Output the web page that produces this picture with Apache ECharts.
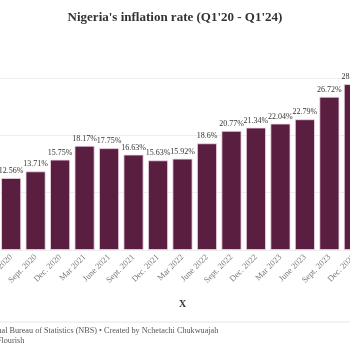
<!DOCTYPE html>
<html>
<head>
<meta charset="utf-8">
<script src="https://cdn.jsdelivr.net/npm/echarts@6/dist/echarts.min.js"></script>
<style>
  html, body { margin: 0; padding: 0; background: #fff; }
  #main { width: 350px; height: 350px; }
</style>
</head>
<body>
<div id="main"></div>
<script>
// quarters shown in the chart (Q1'20 - Q1'24)
var quarters = ['Mar 2020', 'June 2020', 'Sept. 2020', 'Dec. 2020',
  'Mar 2021', 'June 2021', 'Sept. 2021', 'Dec. 2021',
  'Mar 2022', 'June 2022', 'Sept. 2022', 'Dec. 2022',
  'Mar 2023', 'June 2023', 'Sept. 2023', 'Dec. 2023', 'Mar 2024']
// inflation rate, %
var inflation = [12.26, 12.56, 13.71, 15.75,
  18.17, 17.75, 16.63, 15.63,
  15.92, 18.6, 20.77, 21.34,
  22.04, 22.79, 26.72, 28.92, 33.2]

var sourceText = 'Source: National Bureau of Statistics (NBS) \u2022 Created by Nchetachi Chukwuajah'
var madeWith = 'Made with Flourish'

var serif = '"Liberation Serif", "DejaVu Serif", serif'

// the picture is cropped, so shift footer text to the left like the original
function textWidth(str, font) {
  var ctx = document.createElement('canvas').getContext('2d')
  ctx.font = font
  return ctx.measureText(str).width
}
var footFont = '8.2px "Liberation Serif"'
var srcShift = textWidth('Source: Nation', footFont) - 1.5
var madeShift = textWidth('Made with F', footFont) - 1.5

var myChart = echarts.init(document.getElementById('main'))
var option = {
  backgroundColor: '#fff',
  animation: false,
  title: {
    text: "Nigeria's inflation rate (Q1'20 - Q1'24)",
    left: 'center',
    top: 6,
    textStyle: {
      fontFamily: serif,
      fontSize: 13,
      fontWeight: 'bold',
      color: '#333'
    }
  },
  grid: {
    left: -25.6,
    right: -40.6,
    top: 49.3,
    bottom: 100,
    containLabel: false,
    outerBoundsMode: 'none'
  },
  xAxis: {
    type: 'category',
    data: quarters,
    name: 'X',
    nameLocation: 'middle',
    nameGap: 49,
    nameTextStyle: {
      fontFamily: serif,
      fontSize: 10,
      fontWeight: 'bold',
      color: '#333'
    },
    axisLine: { show: false },
    axisTick: { show: false },
    axisLabel: {
      interval: 0,
      rotate: 45,
      margin: 6,
      fontFamily: serif,
      fontSize: 8.5,
      color: '#777'
    }
  },
  yAxis: {
    type: 'value',
    min: 0,
    max: 35,
    interval: 10,
    axisLabel: { show: false },
    axisLine: { show: false },
    axisTick: { show: false },
    splitLine: {
      showMaxLine: false,
      lineStyle: { color: '#eeeeee', width: 1 }
    }
  },
  series: [
    {
      name: 'Inflation rate',
      type: 'bar',
      data: inflation,
      barWidth: 20,
      itemStyle: {
        color: '#5a1e40',
        borderColor: '#f2dce7',
        borderWidth: 0.8
      },
      label: {
        show: true,
        position: 'top',
        distance: 3,
        fontFamily: serif,
        fontSize: 8,
        color: '#333',
        formatter: function (p) { return p.value + '%' }
      }
    }
  ],
  graphic: [
    {
      type: 'line',
      shape: { x1: 0, y1: 322, x2: 350, y2: 322 },
      style: { stroke: '#e6e6e6', lineWidth: 1 }
    },
    {
      type: 'text',
      left: -srcShift,
      top: 327,
      style: {
        text: sourceText,
        font: footFont,
        fill: '#555'
      }
    },
    {
      type: 'text',
      left: -madeShift,
      top: 337,
      style: {
        text: madeWith,
        font: footFont,
        fill: '#555'
      }
    }
  ]
}
myChart.setOption(option)
</script>
</body>
</html>
